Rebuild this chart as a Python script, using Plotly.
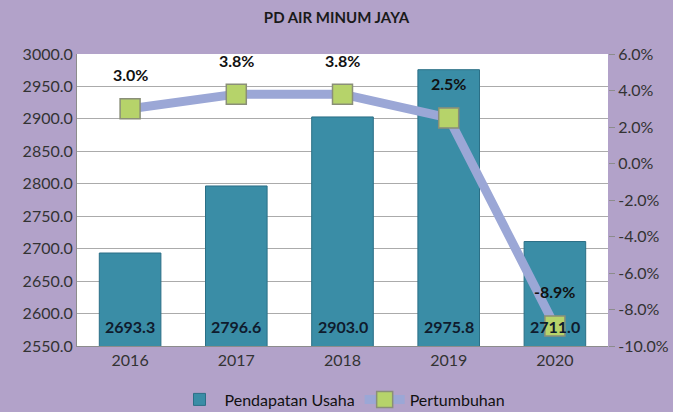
import plotly.graph_objects as go

years = ["2016", "2017", "2018", "2019", "2020"]
pendapatan = [2693.3, 2796.6, 2903.0, 2975.8, 2711.0]
pertumbuhan = [3.0, 3.8, 3.8, 2.5, -8.9]

left_ticks = [2550 + 50 * i for i in range(10)]
right_ticks = [-10 + 2 * i for i in range(9)]

font_family = "Lato, 'Open Sans', sans-serif"
bg = "#B2A2C9"
y_min, y_max = 2550, 3000

fig = go.Figure()

fig.add_trace(go.Bar(
    x=years, y=pendapatan, name="Pendapatan Usaha",
    marker=dict(color="#3A8DA6", line=dict(color="#2B6F86", width=1)),
    width=0.58,
    yaxis="y",
))

fig.add_trace(go.Scatter(
    x=years, y=pertumbuhan, name="Pertumbuhan",
    mode="lines+markers",
    line=dict(color="#9BA7D6", width=9),
    marker=dict(symbol="square", size=20, color="#B6D36A",
                line=dict(color="#8A8F78", width=1.5)),
    yaxis="y2",
))

# bar value labels sitting at the bottom of the visible bar
for i, v in enumerate(pendapatan):
    fig.add_annotation(
        x=i, y=y_min, yref="y", yanchor="bottom", yshift=8,
        text=f"<b>{v:.1f}</b>", showarrow=False,
        font=dict(size=16, color="#0F1B2D", family=font_family),
    )

# percentage labels above the markers (x as category index)
for i, v in enumerate(pertumbuhan):
    fig.add_annotation(
        x=i, y=v, yref="y2", text=f"<b>{v:.1f}%</b>", showarrow=False,
        yshift=34, font=dict(size=16, color="#111111", family=font_family),
    )

fig.update_layout(
    width=673, height=412,
    paper_bgcolor=bg, plot_bgcolor="white",
    margin=dict(l=77, r=65, t=54, b=66, autoexpand=False),
    title=dict(text="<b>PD AIR MINUM JAYA</b>", x=0.5, xanchor="center",
               y=0.956, yanchor="middle",
               font=dict(size=15, color="#1a1a1a", family=font_family)),
    font=dict(family=font_family, size=16, color="#333333"),
    xaxis=dict(type="category", range=[-0.5, 4.5], showgrid=False,
               showline=True, linecolor="#8C8C8C",
               tickfont=dict(size=16, color="#333333"), ticks=""),
    yaxis=dict(range=[y_min, y_max], tickvals=left_ticks,
               ticktext=[f"{t:.1f}" for t in left_ticks],
               showgrid=True, gridcolor="#ABABAB", gridwidth=1,
               showline=True, linecolor="#8C8C8C", zeroline=False,
               tickfont=dict(size=16, color="#333333")),
    yaxis2=dict(range=[-10, 6], tickvals=right_ticks,
                ticktext=[f"{t:.1f}%" for t in right_ticks],
                overlaying="y", side="right", showgrid=False,
                zeroline=False, ticks="outside", ticklen=6, tickcolor="#8C8C8C",
                tickfont=dict(size=16, color="#333333")),
    legend=dict(orientation="h", x=0.5, xanchor="center", y=-0.125,
                yanchor="top", font=dict(size=16, color="#111111"),
                bgcolor="rgba(0,0,0,0)", itemwidth=40),
    showlegend=True,
)

fig.write_html("out.html", config={"displayModeBar": False},
               post_script="document.body.style.margin='0';")
